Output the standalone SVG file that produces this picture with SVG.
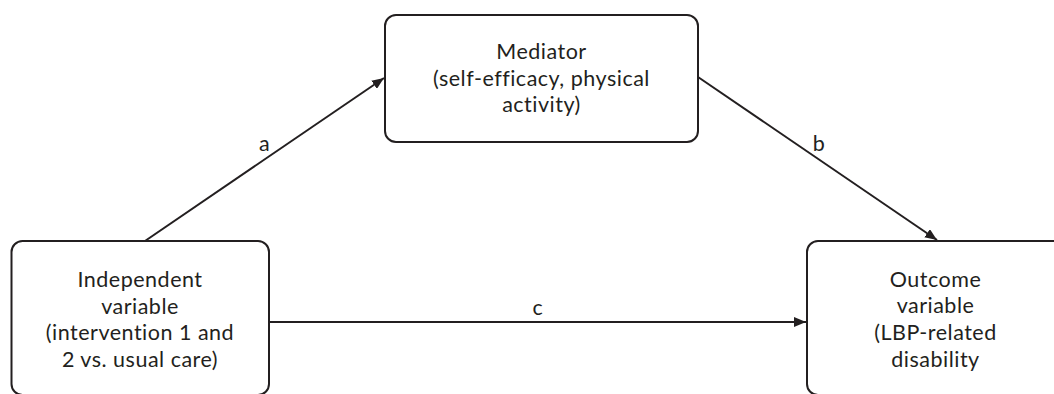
<svg xmlns="http://www.w3.org/2000/svg" width="1054" height="394" viewBox="0 0 1054 394">
  <style>
    .box { fill: #ffffff; stroke: #231f20; stroke-width: 2; }
    .lbl { font-family: Lato, "Liberation Sans", sans-serif; font-size: 21.5px; letter-spacing: 0.5px; fill: #231f20; text-anchor: middle; }
    .edge { stroke: #231f20; stroke-width: 2; fill: none; marker-end: url(#arrow); }
  </style>
  <defs>
    <marker id="arrow" markerUnits="userSpaceOnUse" markerWidth="12" markerHeight="10" refX="12" refY="5" orient="auto">
      <path d="M0,0 L12,5 L0,10 Z" fill="#231f20"/>
    </marker>
  </defs>
  <rect width="1054" height="394" fill="#ffffff"/>

  <g id="connectors">
    <g id="edge-a">
      <line class="edge" x1="145" y1="241" x2="384" y2="78"/>
      <text class="lbl" x="264.5" y="151">a</text>
    </g>
    <g id="edge-b">
      <line class="edge" x1="698" y1="77" x2="937" y2="240"/>
      <text class="lbl" x="819" y="151">b</text>
    </g>
    <g id="edge-c">
      <line class="edge" x1="270" y1="322" x2="806" y2="322"/>
      <text class="lbl" x="538" y="315">c</text>
    </g>
  </g>

  <g id="mediator">
    <rect class="box" x="385" y="15" width="313" height="127" rx="11"/>
    <text class="lbl" x="541.5" y="59">Mediator</text>
    <text class="lbl" x="541.5" y="85.5">(self-efficacy, physical</text>
    <text class="lbl" x="541.5" y="112">activity)</text>
  </g>

  <g id="independent">
    <rect class="box" x="11.5" y="241" width="257.5" height="154" rx="11"/>
    <text class="lbl" x="140" y="287">Independent</text>
    <text class="lbl" x="140" y="313.5">variable</text>
    <text class="lbl" x="140" y="340">(intervention 1 and</text>
    <text class="lbl" x="140" y="367">2 vs. usual care)</text>
  </g>

  <g id="outcome">
    <rect class="box" x="807" y="241" width="257" height="154" rx="11"/>
    <text class="lbl" x="935.5" y="287">Outcome</text>
    <text class="lbl" x="935.5" y="313">variable</text>
    <text class="lbl" x="935.5" y="340">(LBP-related</text>
    <text class="lbl" x="935.5" y="366.5">disability</text>
  </g>
</svg>
